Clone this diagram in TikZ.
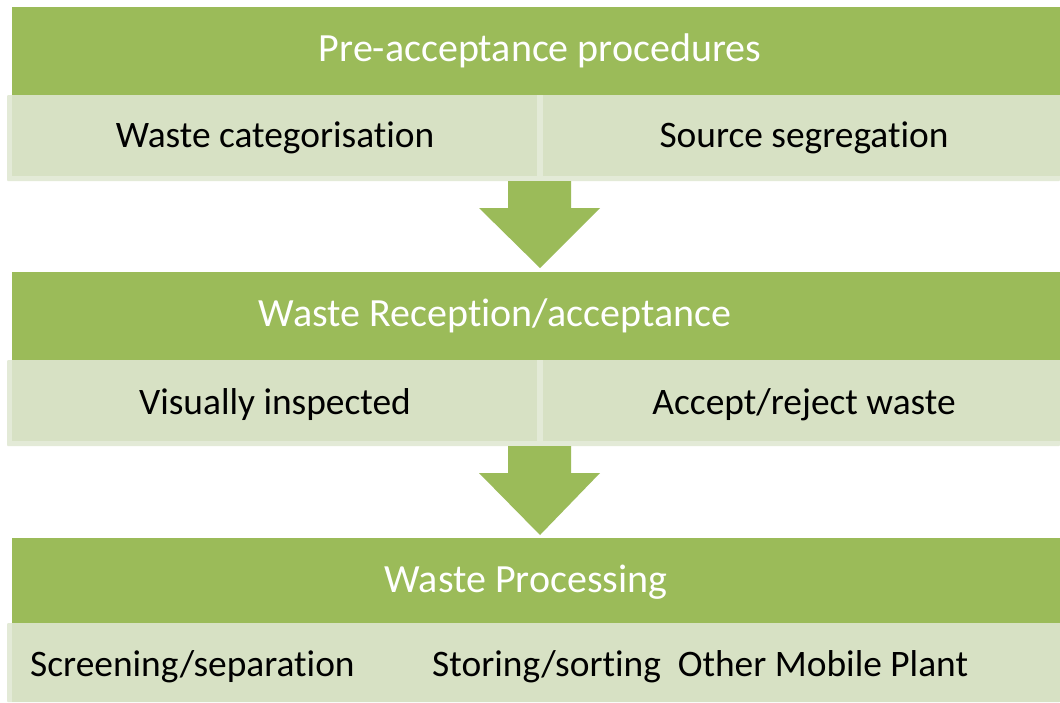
\documentclass[tikz,border=0pt]{standalone}
\usepackage{fontspec}
\setmainfont{Carlito}[Ligatures=NoCommon]
\definecolor{hdr}{HTML}{9BBB59}
\definecolor{sub}{HTML}{D7E1C4}
\definecolor{subedge}{HTML}{E3EAD7}
\begin{document}
\begin{tikzpicture}[x=1pt,y=-1pt,
  hdrbox/.style={fill=hdr,draw=none},
  subouter/.style={fill=subedge,draw=none,rounded corners=1pt},
  subinner/.style={fill=sub,draw=none},
  flowarrow/.style={fill=hdr,draw=none},
  title/.style={text=white,font=\fontsize{40}{44}\selectfont,inner sep=0pt},
  item/.style={text=black,font=\fontsize{37.4}{41}\selectfont,inner sep=0pt}]
\useasboundingbox[fill=white] (0,0) rectangle (1060,702);
% block 1
\fill[subouter] (7,95) rectangle (1060,181);
\fill[subinner] (12,95) rectangle (537,176);
\fill[subinner] (543,95) rectangle (1060,176);
\fill[hdrbox] (12,7) rectangle (1060,95);
\node[title] (t1) at (540,51) {Pre-acceptance procedures};
\node[item] (a1) at (275,138) {Waste categorisation};
\node[item] (b1) at (804,138) {Source segregation};
% arrow 1
\fill[flowarrow] (508,181) -- (571,181) -- (571,208) -- (600,208) -- (540,268) -- (479,208) -- (508,208) -- cycle;
% block 2
\fill[subouter] (7,360) rectangle (1060,446);
\fill[subinner] (12,360) rectangle (537,441);
\fill[subinner] (543,360) rectangle (1060,441);
\fill[hdrbox] (12,272) rectangle (1060,360);
\node[title] (t2) at (495,316) {Waste Reception/acceptance};
\node[item] (a2) at (275,405) {Visually inspected};
\node[item] (b2) at (804,405) {Accept/reject waste};
% arrow 2
\fill[flowarrow] (508,446) -- (571,446) -- (571,473) -- (600,473) -- (540,535) -- (479,473) -- (508,473) -- cycle;
% block 3
\fill[subouter] (7,623) rectangle (1060,702);
\fill[subinner] (12,623) rectangle (1060,702);
\fill[hdrbox] (12,538) rectangle (1060,623);
\node[title] (t3) at (526,582) {Waste Processing};
\node[item,anchor=west] (a3) at (30,667) {Screening/separation};
\node[item,anchor=west] (b3) at (432,667) {Storing/sorting\ \ Other Mobile Plant};
\end{tikzpicture}
\end{document}
